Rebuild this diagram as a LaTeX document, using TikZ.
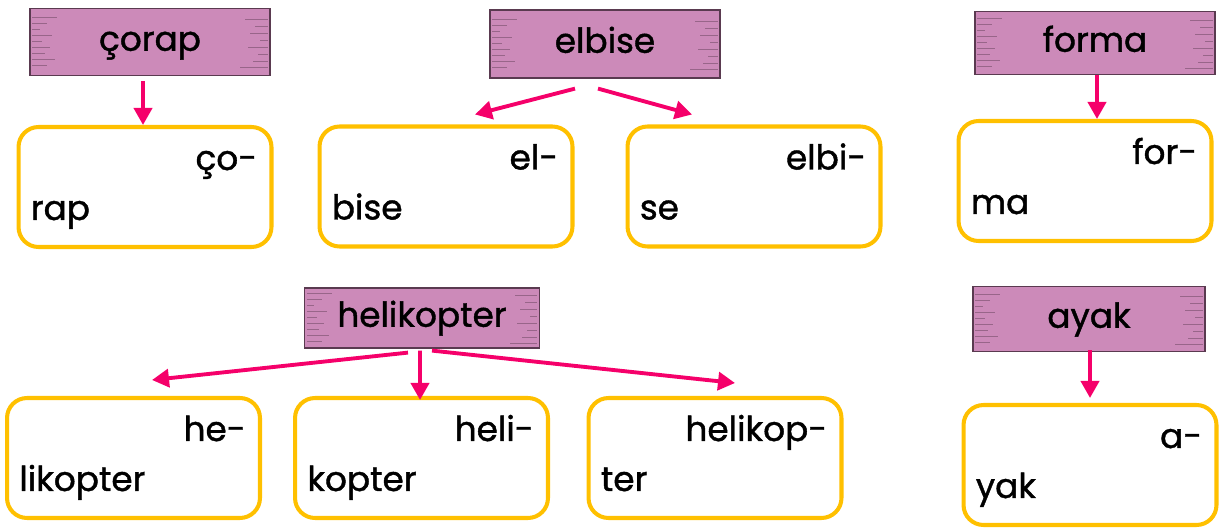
\documentclass[tikz,border=0pt]{standalone}
\usepackage{fontspec}
\setmainfont{Poppins}
\newfontfamily\wordfont{Poppins}[FakeBold=1.2]
\usetikzlibrary{arrows.meta}

\definecolor{bannerpink}{HTML}{CC8AB9}
\definecolor{bannerink}{HTML}{5A3A50}
\definecolor{boxyellow}{HTML}{FFC000}
\definecolor{arrowpink}{HTML}{F5006A}

\tikzset{
  banner/.style={fill=bannerpink, draw=bannerink, line width=0.7pt, inner sep=0pt,
    text height=10pt, text depth=0pt,
    font=\wordfont\fontsize{19.5}{21}\selectfont},
  syllbox/.style={draw=boxyellow, line width=2.3pt, rounded corners=0.4cm, fill=white,
    minimum width=5.06cm, minimum height=2.4cm, inner sep=0pt},
  syll/.style={font=\wordfont\fontsize{19.5}{21}\selectfont, inner sep=0pt},
  streak/.style={draw=bannerink, line width=0.5pt, opacity=0.45},
  hyph/.style={draw=arrowpink, line width=2.2pt, -{Triangle[length=0.34cm,width=0.36cm]}}
}

% short rough lines at both ends of a banner
\newcommand{\streaks}[1]{%
  \foreach \dy/\len in {0.5/0.5,0.38/0.3,0.26/0.15,0.14/0.4,0.02/0.2,-0.1/0.35,-0.22/0.25,-0.34/0.45,-0.46/0.3}
    \draw[streak] ([xshift=0.06cm,yshift=\dy cm]#1.west) -- ++(\len cm,0pt);
  \foreach \dy/\len in {0.46/0.45,0.32/0.25,0.18/0.35,0.04/0.15,-0.1/0.4,-0.24/0.2,-0.38/0.3,-0.5/0.55}
    \draw[streak] ([xshift=-0.06cm,yshift=\dy cm]#1.east) -- ++(-\len cm,0pt);
}

\begin{document}
\begin{tikzpicture}[x=0.02cm,y=-0.02cm]
  \useasboundingbox (0,0) rectangle (1219,530);

  % banners
  \node[banner, minimum width=4.8cm, minimum height=1.34cm] (corap) at (150,42) {çorap};
  \node[banner, minimum width=4.6cm, minimum height=1.36cm] (elbise) at (605,44) {elbise};
  \node[banner, minimum width=4.8cm, minimum height=1.26cm] (forma) at (1095,43) {forma};
  \node[banner, minimum width=4.7cm, minimum height=1.2cm] (heli) at (422,318) {helikopter};
  \node[banner, minimum width=4.64cm, minimum height=1.3cm] (ayak) at (1089,319) {ayak};
  \streaks{corap}
  \streaks{elbise}
  \streaks{forma}
  \streaks{heli}
  \streaks{ayak}

  % boxes
  \node[syllbox] (corapbox) at (145,187) {};
  \node[syllbox] (elbiseboxa) at (446,186.5) {};
  \node[syllbox] (elbiseboxb) at (754,186.5) {};
  \node[syllbox] (formabox) at (1085,181) {};
  \node[syllbox] (heliboxa) at (133.5,458) {};
  \node[syllbox] (heliboxb) at (421.5,458) {};
  \node[syllbox] (heliboxc) at (715,458) {};
  \node[syllbox] (ayakbox) at (1090,465) {};

  % syllables
  \foreach \b/\first/\second in {corapbox/ço-/rap, elbiseboxa/el-/bise, elbiseboxb/elbi-/se,
      formabox/for-/ma, heliboxa/he-/likopter, heliboxb/heli-/kopter,
      heliboxc/helikop-/ter, ayakbox/a-/yak}{
    \node[syll, anchor=base east] (\b-1) at ([xshift=-0.32cm,yshift=-0.9cm]\b.north east) {\first};
    \node[syll, anchor=base west] (\b-2) at ([xshift=0.28cm,yshift=-1.9cm]\b.north west) {\second};
  }

  % arrows
  \draw[hyph] ([xshift=-0.14cm,yshift=-0.1cm]corap.south) -- ([xshift=-0.04cm]corapbox.north);
  \draw[hyph] ([xshift=-0.6cm,yshift=-0.2cm]elbise.south) -- ([xshift=0.58cm,yshift=0.2cm]elbiseboxa.north);
  \draw[hyph] ([xshift=-0.14cm,yshift=-0.2cm]elbise.south) -- ([xshift=-1.24cm,yshift=0.2cm]elbiseboxb.north);
  \draw[hyph] ([xshift=0.04cm]forma.south) -- ([xshift=0.24cm]formabox.north);
  \draw[hyph] ([xshift=-0.28cm,yshift=-0.08cm]heli.south) -- ([xshift=0.37cm,yshift=0.32cm]heliboxa.north);
  \draw[hyph] ([xshift=-0.04cm,yshift=-0.04cm]heli.south) -- ([xshift=-0.03cm,yshift=-0.08cm]heliboxb.north);
  \draw[hyph] ([xshift=0.2cm,yshift=-0.04cm]heli.south) -- ([xshift=0.4cm,yshift=0.26cm]heliboxc.north);
  \draw[hyph] ([xshift=0.02cm,yshift=0.04cm]ayak.south) -- ([yshift=0.1cm]ayakbox.north);
\end{tikzpicture}
\end{document}
